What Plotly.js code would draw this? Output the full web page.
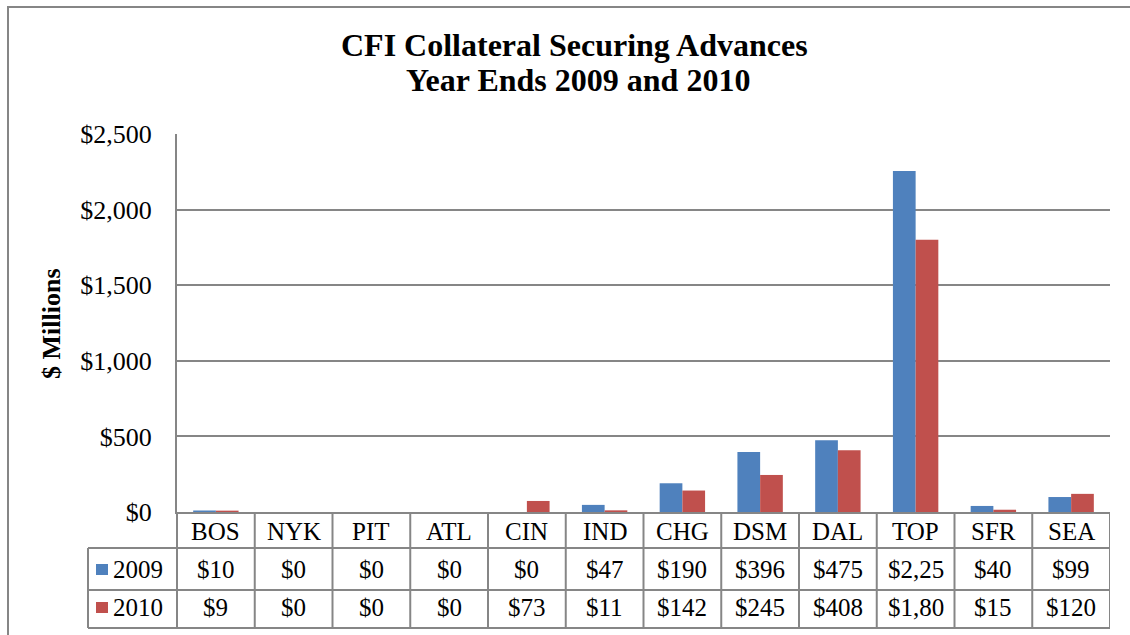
<!DOCTYPE html>
<html>
<head>
<meta charset="utf-8">
<script src="https://cdn.plot.ly/plotly-3.0.1.min.js"></script>
<style>html,body{margin:0;padding:0;background:#fff;}#chart{width:1130px;height:635px;}</style>
</head>
<body>
<div id="chart"></div>
<script>
// ---- data ----
const categories = ["BOS","NYK","PIT","ATL","CIN","IND","CHG","DSM","DAL","TOP","SFR","SEA"];
const series2009 = [10, 0, 0, 0, 0, 47, 190, 396, 475, 2256, 40, 99];
const series2010 = [9, 0, 0, 0, 73, 11, 142, 245, 408, 1800, 15, 120];
const seriesNames = ["2009", "2010"];
const yTicks = [0, 500, 1000, 1500, 2000, 2500];
const yTickText = ["$0", "$500", "$1,000", "$1,500", "$2,000", "$2,500"];
const titleLines = ["CFI Collateral Securing Advances", "Year Ends 2009 and 2010"];
const yTitle = "$ Millions";

// ---- layout helpers (pixel -> paper) ----
const L = 177, R = 1110, T = 134, B = 512;
const W = 1130, H = 635;
const px = p => (p - L) / (R - L);
const py = p => (B - p) / (B - T);

const blue = "#4F81BD", red = "#C0504D", grid = "#868686";
const FONT = "Liberation Serif, Times New Roman, serif";

function cellText(v) {
  const s = "$" + v.toLocaleString("en-US");
  return s.length > 5 ? s.slice(0, 5) : s;  // clipped like the narrow table cells
}

const traces = [
  {type: "bar", name: seriesNames[0], x: categories, y: series2009, marker: {color: blue}},
  {type: "bar", name: seriesNames[1], x: categories, y: series2010, marker: {color: red}}
];

const shapes = [];
const annotations = [];
const lineStyle = {color: grid, width: 2};

// outer chart border
shapes.push({type: "rect", xref: "paper", yref: "paper",
  x0: px(8), x1: px(W + 10), y0: py(H + 10), y1: py(7), line: lineStyle});

// table horizontal lines
[548, 590, 628].forEach(yy => {
  shapes.push({type: "line", xref: "paper", yref: "paper", x0: px(88), x1: px(R), y0: py(yy), y1: py(yy), line: lineStyle});
});
// table left borders
shapes.push({type: "line", xref: "paper", yref: "paper", x0: px(88), x1: px(88), y0: py(548), y1: py(628), line: lineStyle});
shapes.push({type: "line", xref: "paper", yref: "paper", x0: 0, x1: 0, y0: py(B), y1: py(628), line: lineStyle});
// category dividers
for (let i = 0; i < categories.length; i++) {
  shapes.push({type: "line", xref: "x", yref: "paper", x0: i + 0.5, x1: i + 0.5,
    y0: 0, y1: py(628), line: lineStyle});
}
// legend swatches
shapes.push({type: "rect", xref: "paper", yref: "paper", x0: px(96), x1: px(108), y0: py(575), y1: py(564), fillcolor: blue, line: {width: 0}});
shapes.push({type: "rect", xref: "paper", yref: "paper", x0: px(96), x1: px(108), y0: py(613), y1: py(602), fillcolor: red, line: {width: 0}});

const tf = {family: FONT, size: 25, color: "#000"};
annotations.push({xref: "paper", yref: "paper", x: px(138), y: py(569), text: seriesNames[0], showarrow: false, font: tf, xanchor: "center", yanchor: "middle"});
annotations.push({xref: "paper", yref: "paper", x: px(138), y: py(607), text: seriesNames[1], showarrow: false, font: tf, xanchor: "center", yanchor: "middle"});
categories.forEach((c, i) => {
  annotations.push({xref: "x", yref: "paper", x: c, y: py(531), text: c, showarrow: false, font: tf, xanchor: "center", yanchor: "middle"});
  annotations.push({xref: "x", yref: "paper", x: c, y: py(569), text: cellText(series2009[i]), showarrow: false, font: tf, xanchor: "center", yanchor: "middle"});
  annotations.push({xref: "x", yref: "paper", x: c, y: py(607), text: cellText(series2010[i]), showarrow: false, font: tf, xanchor: "center", yanchor: "middle"});
});
// title lines
const titleFont = {family: FONT, size: 32, color: "#000"};
annotations.push({xref: "paper", yref: "paper", x: px(574), y: py(45), text: "<b>" + titleLines[0] + "</b>", showarrow: false, font: titleFont, xanchor: "center", yanchor: "middle"});
annotations.push({xref: "paper", yref: "paper", x: px(578), y: py(80), text: "<b>" + titleLines[1] + "</b>", showarrow: false, font: titleFont, xanchor: "center", yanchor: "middle"});
// y-axis title
annotations.push({xref: "paper", yref: "paper", x: px(51), y: py(323), text: "<b>" + yTitle + "</b>", textangle: -90, showarrow: false, font: {family: FONT, size: 26, color: "#000"}, xanchor: "center", yanchor: "middle"});

const layout = {
  width: W, height: H,
  margin: {l: L, r: W - R, t: T, b: H - B, pad: 0},
  paper_bgcolor: "#fff", plot_bgcolor: "#fff",
  showlegend: false,
  barmode: "group", bargap: 0.416, bargroupgap: 0,
  xaxis: {type: "category", range: [-0.5, categories.length - 0.5],
    showticklabels: false, ticks: "", showgrid: false, zeroline: false,
    showline: true, linecolor: grid, linewidth: 2, fixedrange: true},
  yaxis: {range: [0, 2500], tickvals: yTicks, ticktext: yTickText,
    showgrid: true, gridcolor: grid, gridwidth: 2, zeroline: false,
    showline: true, linecolor: grid, linewidth: 2, ticks: "inside", ticklen: 4, tickcolor: grid, tickwidth: 2,
    ticklabelstandoff: 18,
    tickfont: {family: FONT, size: 26, color: "#000"}},
  shapes: shapes,
  annotations: annotations
};

Plotly.newPlot("chart", traces, layout, {displayModeBar: false, staticPlot: true});
</script>
</body>
</html>
